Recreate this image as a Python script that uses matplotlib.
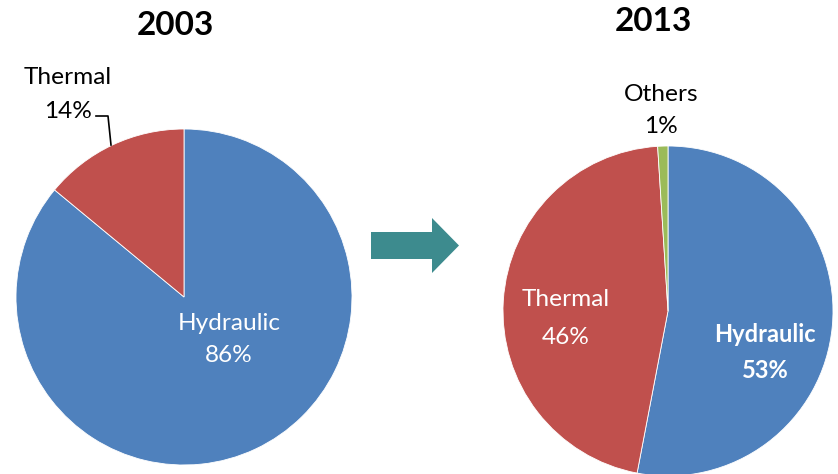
import matplotlib
matplotlib.use("Agg")
import matplotlib.pyplot as plt
from matplotlib.patches import FancyArrow
import numpy as np

plt.rcParams['font.family'] = ['Lato', 'DejaVu Sans']

years = ["2003", "2013"]
labels_2003 = ["Hydraulic", "Thermal"]
values_2003 = [86, 14]
labels_2013 = ["Hydraulic", "Thermal", "Others"]
values_2013 = [53, 46, 1]
colors = {"Hydraulic": "#4F81BD", "Thermal": "#C0504D", "Others": "#9BBB59"}

W, H = 838, 474
fig = plt.figure(figsize=(W / 100, H / 100), dpi=100)
ax = fig.add_axes([0, 0, 1, 1])
ax.set_xlim(0, W)
ax.set_ylim(0, H)
ax.set_aspect('equal')
ax.axis('off')

def Y(y):
    return H - y

# Left pie (2003)
ax.pie(values_2003, colors=[colors[l] for l in labels_2003], startangle=90,
       counterclock=False, center=(184, Y(297)), radius=168,
       wedgeprops=dict(edgecolor='white', linewidth=0.6), frame=True)
# Right pie (2013)
ax.pie(values_2013, colors=[colors[l] for l in labels_2013], startangle=90,
       counterclock=False, center=(668, Y(311)), radius=165,
       wedgeprops=dict(edgecolor='white', linewidth=0.6), frame=True)
ax.set_xlim(0, W)
ax.set_ylim(0, H)
ax.axis('off')

fs = 17.6
# Titles
ax.text(175, Y(25), years[0], fontsize=24, fontweight='bold', ha='center', va='center')
ax.text(653, Y(21), years[1], fontsize=24, fontweight='bold', ha='center', va='center')

def lab(x, y1, y2, name, val, color, bold=False, size=fs):
    w = 'bold' if bold else 'normal'
    ax.text(x, Y(y1), name, fontsize=size, color=color, ha='center', va='center', fontweight=w)
    ax.text(x, Y(y2), f"{val}%", fontsize=size, color=color, ha='center', va='center', fontweight=w)

lab(229, 323, 355, labels_2003[0], values_2003[0], 'white')
lab(68, 77, 111, labels_2003[1], values_2003[1], 'black')
ax.plot([96, 108, 111], [Y(116), Y(116), Y(145)], color='black', lw=1.2)

lab(765, 334, 371, labels_2013[0], values_2013[0], 'white', bold=True, size=17)
lab(566, 300, 337, labels_2013[1], values_2013[1], 'white')
lab(661, 94, 126, labels_2013[2], values_2013[2], 'black')

# Arrow
ax.add_patch(FancyArrow(371, Y(245.5), 88, 0, width=27, head_width=55,
                        head_length=27, length_includes_head=True,
                        color='#3D8B8E', lw=0))

fig.savefig("out.png", dpi=100)
